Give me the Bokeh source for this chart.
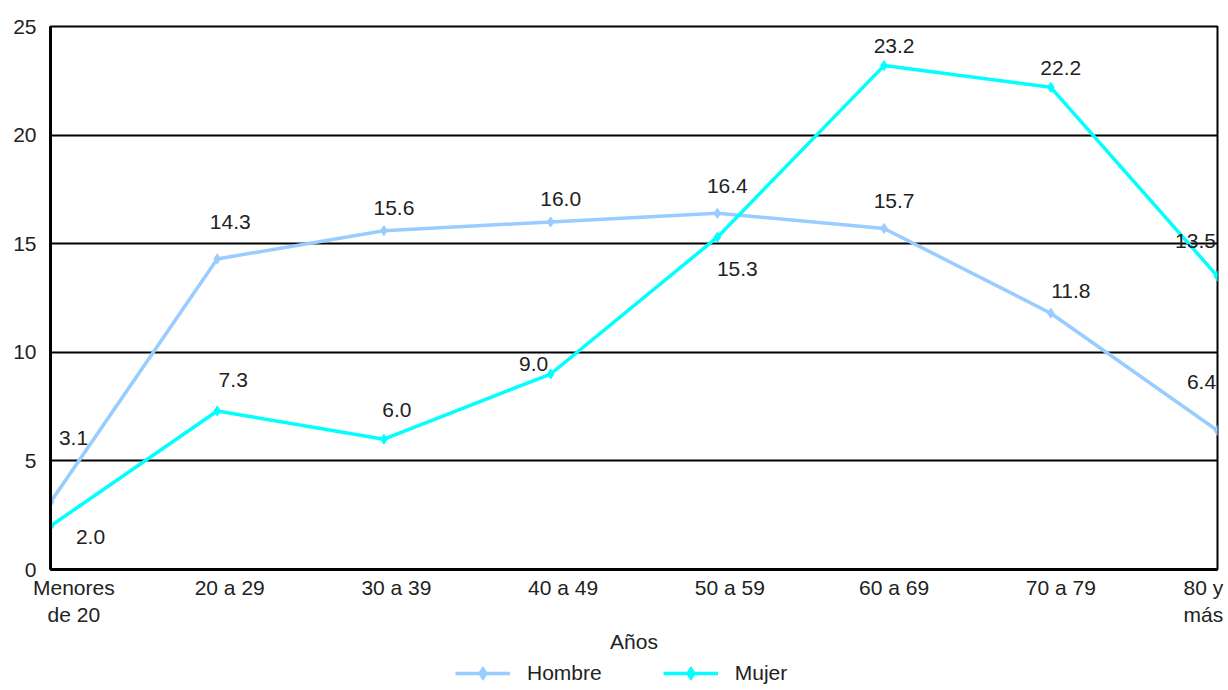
from bokeh.plotting import figure
from bokeh.layouts import column
from bokeh.models import Range1d, FixedTicker, Legend, LegendItem, ColumnDataSource
from bokeh.core.properties import value
from bokeh.embed import file_html
from bokeh.resources import INLINE

categories = ["Menores\nde 20", "20 a 29", "30 a 39", "40 a 49", "50 a 59", "60 a 69", "70 a 79", "80 y\nmás"]
hombre = [3.1, 14.3, 15.6, 16.0, 16.4, 15.7, 11.8, 6.4]
mujer = [2.0, 7.3, 6.0, 9.0, 15.3, 23.2, 22.2, 13.5]
y_ticks = [0, 5, 10, 15, 20, 25]
series_names = ["Hombre", "Mujer"]

# label placement (screen px offsets from each point)
h_dx = [23, 13, 10, 10, 10, 10, 20, -16]
h_dy = [-64, -37, -23, -23, -27, -27, -22, -48]
m_dx = [40, 16, 13, -17, 20, 10, 10, -22]
m_dy = [11, -31, -29, -10, 32, -20, -19, -35]
tick_shift = [0.14, 0.075, 0.075, 0.075, 0.075, 0.06, 0.06, -0.085]

FONT = "Liberation Sans"
FS = "21px"
TXT = "#222222"
C_H = "#99CCFF"
C_M = "#00FFFF"

xs = list(range(len(categories)))

p = figure(width=1228, height=656, x_range=Range1d(0, len(categories) - 1), y_range=Range1d(0, 25),
           output_backend="svg", toolbar_location=None,
           min_border_left=50, min_border_right=11, min_border_top=26, min_border_bottom=85)

p.outline_line_color = "black"
p.outline_line_width = 2
p.background_fill_color = "white"
p.border_fill_color = "white"

p.xgrid.visible = False
p.ygrid.grid_line_color = "black"
p.ygrid.grid_line_width = 2
p.yaxis.ticker = FixedTicker(ticks=y_ticks)
p.yaxis.axis_line_color = "black"
p.yaxis.axis_line_width = 3
p.yaxis.major_tick_line_color = None
p.yaxis.minor_tick_line_color = None
p.yaxis.major_label_standoff = 8
p.yaxis.major_label_text_font = FONT
p.yaxis.major_label_text_font_size = FS
p.yaxis.major_label_text_color = TXT

ticks = [i + s for i, s in zip(xs, tick_shift)]
p.xaxis.ticker = FixedTicker(ticks=ticks)
p.xaxis.major_label_overrides = {t: c for t, c in zip(ticks, categories)}
p.xaxis.axis_line_color = "black"
p.xaxis.axis_line_width = 3
p.xaxis.major_tick_line_color = None
p.xaxis.minor_tick_line_color = None
p.xaxis.major_label_standoff = 0
p.xaxis.major_label_text_font = FONT
p.xaxis.major_label_text_font_size = FS
p.xaxis.major_label_text_color = TXT
p.xaxis.axis_label = "Años"
p.xaxis.axis_label_text_font = FONT
p.xaxis.axis_label_text_font_size = FS
p.xaxis.axis_label_text_font_style = "normal"
p.xaxis.axis_label_text_color = TXT
p.xaxis.axis_label_standoff = 1

src_h = ColumnDataSource(dict(x=xs, y=hombre, t=[f"{v:.1f}" for v in hombre], dx=h_dx, dy=h_dy))
src_m = ColumnDataSource(dict(x=xs, y=mujer, t=[f"{v:.1f}" for v in mujer], dx=m_dx, dy=m_dy))

p.line("x", "y", source=src_h, line_color=C_H, line_width=3.5)
p.scatter("x", "y", source=src_h, marker="diamond", size=10, fill_color=C_H, line_color=C_H)
p.line("x", "y", source=src_m, line_color=C_M, line_width=3.5)
p.scatter("x", "y", source=src_m, marker="diamond", size=10, fill_color=C_M, line_color=C_M)

for src in (src_h, src_m):
    p.text("x", "y", text="t", source=src, x_offset="dx", y_offset="dy",
           text_font=value(FONT), text_font_size=FS, text_color=TXT,
           text_align="center", text_baseline="middle")

# legend strip below the chart
lg = figure(width=1228, height=34, x_range=Range1d(0, 1), y_range=Range1d(0, 1),
            output_backend="svg", toolbar_location=None, x_axis_type=None, y_axis_type=None,
            min_border_left=0, min_border_right=0, min_border_top=0, min_border_bottom=0)
lg.outline_line_color = None
lg.grid.visible = False
nan_src = ColumnDataSource(dict(x=[float("nan")], y=[float("nan")]))
items = []
for name, col in zip(series_names, (C_H, C_M)):
    l = lg.line("x", "y", source=nan_src, line_color=col, line_width=3.5)
    s = lg.scatter("x", "y", source=nan_src, marker="diamond", size=17, fill_color=col, line_color=col)
    items.append(LegendItem(label=name, renderers=[l, s]))

legend = Legend(items=items, orientation="horizontal", location=(405, 0),
                border_line_color=None, background_fill_alpha=0,
                label_text_font=FONT, label_text_font_size=FS, label_text_color=TXT,
                glyph_width=55, glyph_height=34, label_height=34,
                spacing=61, padding=0, margin=0, label_standoff=17)
lg.add_layout(legend)

layout = column(p, lg, spacing=0)
open("out.html", "w").write(file_html(layout, INLINE))
